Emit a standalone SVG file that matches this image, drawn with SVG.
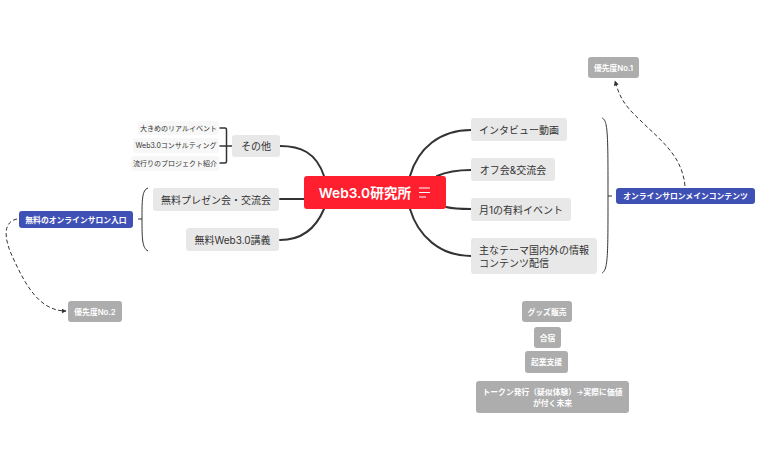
<svg xmlns="http://www.w3.org/2000/svg" width="760" height="470" viewBox="0 0 760 470">
<style>
text{font-family:Inter,"Noto Sans CJK JP",sans-serif;text-anchor:middle;dominant-baseline:central}
.n{fill:#e8e8e8}.t{font-size:10px;fill:#333}
.s{fill:#f7f7f7}.st{font-size:7px;fill:#333}
.g{fill:#adadad}.gt{font-size:7.8px;fill:#fff;font-weight:600}
.p{fill:#3f51b5}.pt{font-size:7.8px;fill:#fff;font-weight:700}
.c{fill:none;stroke:#333;stroke-width:2;stroke-linecap:round}
.b{fill:none;stroke:#333;stroke-width:1}
.d{fill:none;stroke:#333;stroke-width:1;stroke-dasharray:4 2.5}
</style>
<defs><marker id="a" markerWidth="6" markerHeight="6" refX="4.5" refY="2.5" orient="auto" markerUnits="userSpaceOnUse"><path d="M0 0L5 2.5L0 5Z" fill="#333"/></marker></defs>
<rect width="760" height="470" fill="#fff"/>
<g id="connectors">
<path class="c" d="M410 176C418 148 440 130 471 130"/>
<path class="c" d="M437 176C446 172 456 170 471 170"/>
<path class="c" d="M446 207C454 209 460 209 471 209"/>
<path class="c" d="M410 209C418 236 440 256 471 256"/>
<path class="c" d="M324 176C316 152 300 146 280 146"/>
<path class="c" d="M304 199L280 199"/>
<path class="c" d="M324 209C316 228 302 240 280 240"/>
<path class="c" style="stroke-width:1.500" d="M220 128H225Q226.500 128 226.500 130V161Q226.500 163 225 163H220M220 146H232"/>
<path class="b" d="M148 188C142 190 142 200 142 219C142 238 142 248 148 251M138 219H142"/>
<path class="b" d="M602 118C608 120 608 135 608 196C608 255 608 270 602 273M608 196H612"/>
<path class="d" d="M17 219C2 222 4 240 14 260C26 286 40 311 66 311" marker-end="url(#a)"/>
<path class="d" d="M685 186C682 155 660 140 640 120C624 105 620 98 615 81" marker-end="url(#a)"/>
</g>
<g id="center"><rect x="304" y="176" width="142" height="33" rx="3" fill="#ff1f2f"/><text x="365" y="192.500" font-size="13.700" font-weight="600" fill="#fff">Web3.0研究所</text><path d="M419 188H430M419 192.500H430M419 197H426" stroke="#fff" stroke-width="1.200" fill="none"/></g>
<g id="r1"><rect class="n" x="471" y="118" width="96" height="23" rx="3"/><text class="t" x="519" y="129.500">インタビュー動画</text></g>
<g id="r2"><rect class="n" x="471" y="158" width="84" height="23" rx="3"/><text class="t" x="513" y="169.500">オフ会&amp;交流会</text></g>
<g id="r3"><rect class="n" x="471" y="198" width="100" height="23" rx="3"/><text class="t" x="521" y="209.500">月1の有料イベント</text></g>
<g id="r4"><rect class="n" x="471" y="238" width="126" height="36" rx="3"/><text class="t" x="534" y="249.500">主なテーマ国内外の情報</text><text class="t" x="514" y="262.500">コンテンツ配信</text></g>
<g id="l1"><rect class="n" x="232" y="135" width="48" height="22" rx="3"/><text class="t" x="256" y="146">その他</text></g>
<g id="l2"><rect class="n" x="153" y="188" width="126" height="23" rx="3"/><text class="t" x="216" y="199.500">無料プレゼン会・交流会</text></g>
<g id="l3"><rect class="n" x="186" y="228" width="93" height="23" rx="3"/><text class="t" x="232.500" y="239.500">無料Web3.0講義</text></g>
<g id="s1"><rect class="s" x="138" y="121" width="81" height="14" rx="3"/><text class="st" x="178.500" y="128">大きめのリアルイベント</text></g>
<g id="s2"><rect class="s" x="133" y="138" width="86" height="15" rx="3"/><text class="st" x="176" y="145.500">Web3.0コンサルティング</text></g>
<g id="s3"><rect class="s" x="131" y="156" width="88" height="15" rx="3"/><text class="st" x="175" y="163.500">流行りのプロジェクト紹介</text></g>
<g id="p1"><rect class="p" x="19" y="211" width="114" height="17" rx="3"/><text class="pt" x="76" y="219.500">無料のオンラインサロン入口</text></g>
<g id="p2"><rect class="p" x="616" y="188" width="139" height="16" rx="3"/><text class="pt" x="685.500" y="196">オンラインサロンメインコンテンツ</text></g>
<g id="g1"><rect class="g" x="588" y="57" width="51" height="21" rx="3"/><text class="gt" x="613.500" y="67.500">優先度No.1</text></g>
<g id="g2"><rect class="g" x="68" y="301" width="54" height="21" rx="3"/><text class="gt" x="95" y="311.500">優先度No.2</text></g>
<g id="g3"><rect class="g" x="522" y="301" width="50" height="21" rx="3"/><text class="gt" x="547" y="311.500">グッズ販売</text></g>
<g id="g4"><rect class="g" x="534" y="327" width="27" height="21" rx="3"/><text class="gt" x="547.500" y="337.500">合宿</text></g>
<g id="g5"><rect class="g" x="525" y="351" width="43" height="22" rx="3"/><text class="gt" x="546.500" y="362">起業支援</text></g>
<g id="g6"><rect class="g" x="476" y="381" width="153" height="32" rx="3"/><text class="gt" x="552.500" y="392">トークン発行（疑似体験）→実際に価値</text><text class="gt" x="552.500" y="402.500">が付く未来</text></g>
</svg>
